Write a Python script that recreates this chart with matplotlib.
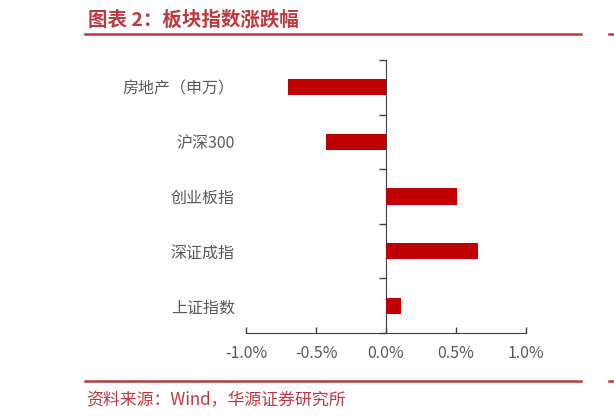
import numpy as np
import matplotlib.pyplot as plt
from matplotlib.lines import Line2D

plt.rcParams['font.family'] = ['Noto Sans CJK SC', 'DejaVu Sans']

# data (percent change)
categories = ['房地产（申万）', '沪深300', '创业板指', '深证成指', '上证指数']
changes = [-0.70, -0.43, 0.51, 0.66, 0.11]
xticks = [-1.0, -0.5, 0.0, 0.5, 1.0]
xlabels = ['-1.0%', '-0.5%', '0.0%', '0.5%', '1.0%']

red = '#C0383F'
gray = '#595959'

fig = plt.figure(figsize=(6.14, 4.2), dpi=100)
ax = fig.add_axes([246/614, 87/420, 280/614, 273/420])

ypos = np.arange(len(categories))
ax.barh(ypos, changes, height=0.3, color='#C00000')
ax.set_xlim(-1.0, 1.0)
ax.set_ylim(len(categories) - 0.5, -0.5)

# category labels on the left, no ticks there
ax.set_yticks(ypos)
ax.set_yticklabels(categories, fontsize=11.5, color=gray)
ax.tick_params(axis='y', length=0, pad=8)

ax.set_xticks(xticks)
ax.set_xticklabels(xlabels, fontsize=11.5, color=gray)
ax.tick_params(axis='x', direction='in', length=4, width=1, color='#404040', pad=9)

for s in ['top', 'right', 'left']:
    ax.spines[s].set_visible(False)
ax.spines['bottom'].set_color('#404040')

# vertical axis at zero with boundary ticks pointing left
sec = ax.secondary_yaxis(0.5)
sec.set_yticks(np.arange(len(categories) + 1) - 0.5)
sec.set_yticklabels([])
sec.tick_params(axis='y', direction='in', length=5, width=1, color='#404040')
for sp in sec.spines.values():
    sp.set_color('#404040')

# title and source with red rules
fig.text(88/614, 1 - 20/420, '图表 2：板块指数涨跌幅', fontsize=14, fontweight='bold',
         color=red, va='center', ha='left')
fig.text(86/614, 1 - 400/420, '资料来源：Wind，华源证券研究所', fontsize=12.2,
         color=red, va='center', ha='left')
for y in [34, 381]:
    fig.add_artist(Line2D([85/614, 581/614], [1 - y/420, 1 - y/420], color=red, lw=1.8))
    fig.add_artist(Line2D([609/614, 1.0], [1 - y/420, 1 - y/420], color=red, lw=1.8))

fig.savefig('out.png', dpi=100)
